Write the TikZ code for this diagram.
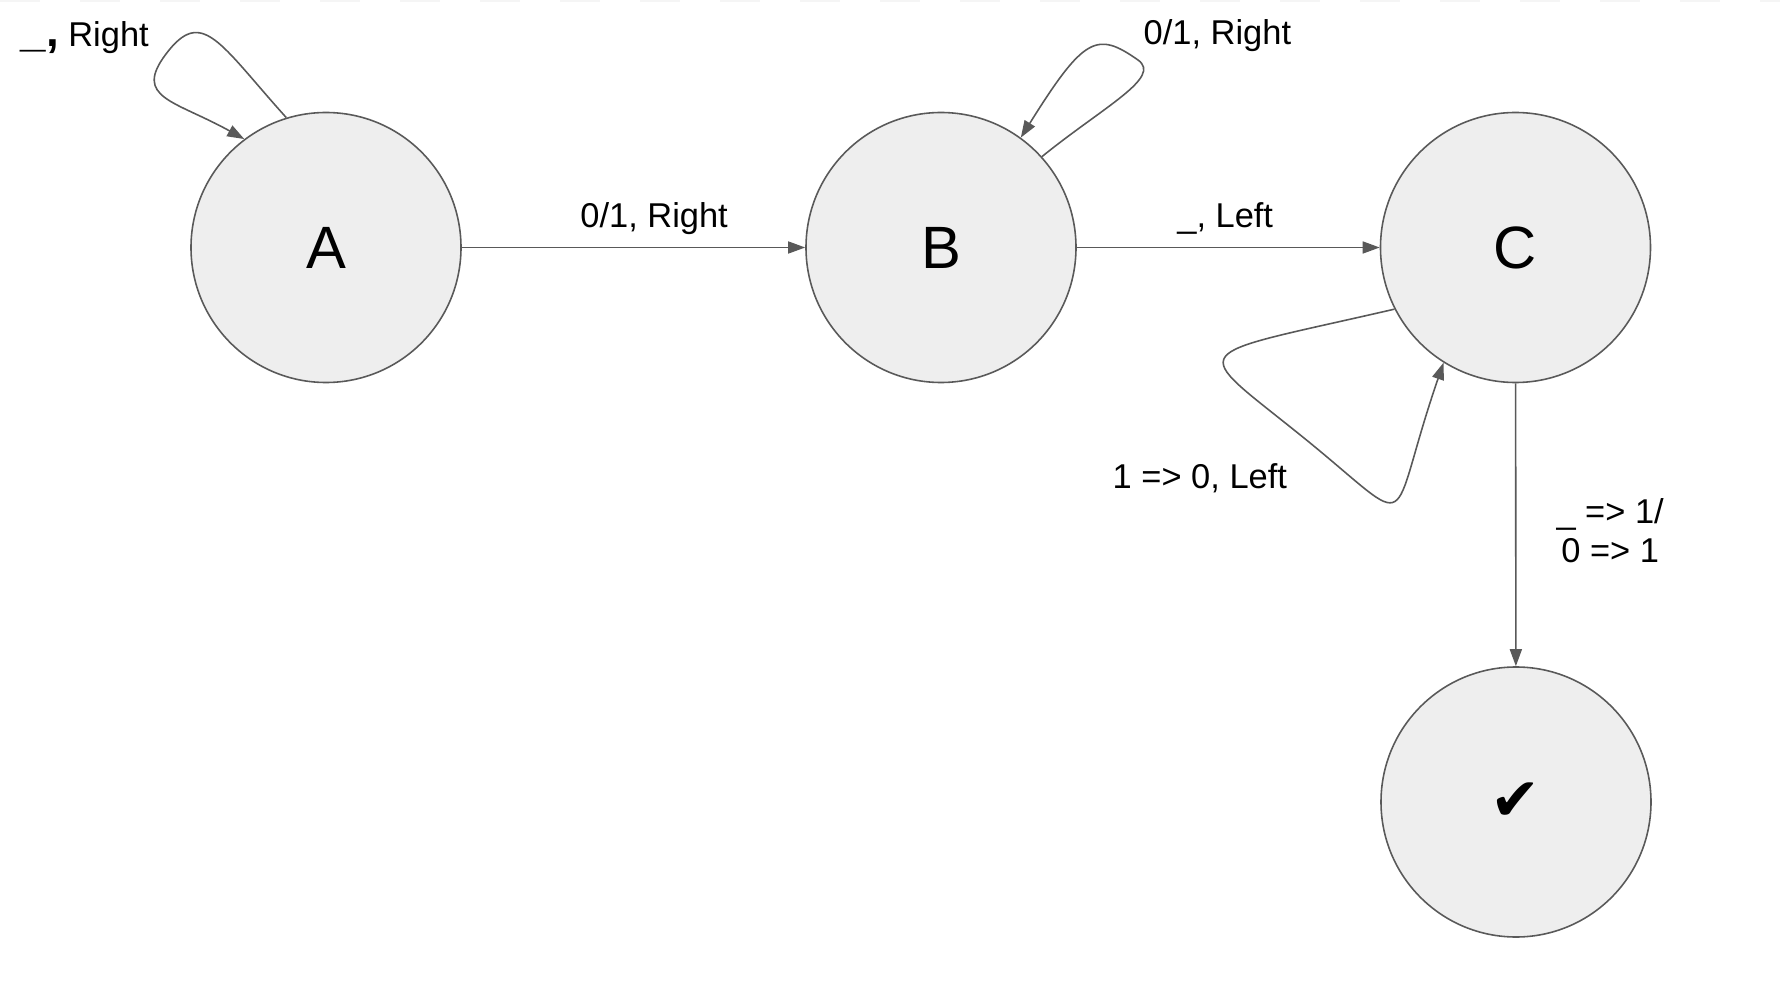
\documentclass[tikz,border=0pt]{standalone}
\usepackage{fontspec}
\setmainfont{Liberation Sans}
\newfontfamily\tickfont{DejaVu Sans}
\usepackage{tikz}
\usetikzlibrary{arrows.meta}
\definecolor{edgegray}{HTML}{595959}
\definecolor{statefill}{HTML}{EEEEEE}

\begin{document}
\begin{tikzpicture}[>={Triangle[length=1.7mm,width=1.2mm]},
  state/.style={draw=edgegray,line width=0.45pt,circle,minimum size=2.7cm,inner sep=0pt,fill=statefill,font=\fontsize{17}{20}\selectfont},
  trans/.style={draw=edgegray,line width=0.45pt,->},
  lbl/.style={inner sep=0pt,font=\fontsize{9.8}{11.2}\selectfont}]
\useasboundingbox (0,0) rectangle (17.8,-10.02);
\draw[gray!8,line width=0.8pt,dash pattern=on 4mm off 4mm] (0,-0.01) -- (17.8,-0.01);
\node[state] (a) at (3.26,-2.475) {A};
\node[state] (b) at (9.41,-2.475) {B};
\node[state] (c) at (15.155,-2.475) {C};
\node[state,font=\fontsize{17}{20}\tickfont] (done) at (15.16,-8.02) {✔};
% turning points of the loops
\coordinate (atip) at (1.66,-0.54);
\coordinate (btip) at (11.38,-0.60);
\coordinate (cdip) at (13.04,-4.38);
\draw[trans] (a) -- node[lbl,above=1.2mm,pos=0.56] (ab) {0/1, Right} (b);
\draw[trans] (b) -- node[lbl,above=1.2mm,pos=0.49] (bc) {\_, Left} (c);
\draw[trans] (c) -- node[lbl,right=4mm,pos=0.52,align=center] (cd) {\_ => 1/\\0 => 1} (done);
\draw[trans] (a.107) .. controls +(132:1.0) and +(53:0.6) .. (atip) .. controls +(233:0.55) and +(151:0.8) .. (a.127);
\node[lbl,anchor=base west] (aa) at (0.20,-0.47) {{\fontsize{13}{14}\selectfont\bfseries\_,} Right};
\draw[trans] (b.42) .. controls +(39:0.8) and +(-35:0.3) .. (btip) .. controls +(145:0.5) and +(58:1.2) .. (b.54);
\node[lbl,anchor=base west] (bb) at (11.43,-0.45) {0/1, Right};
\draw[trans] (c.207) .. controls +(193:2.2) and +(141:1.5) .. (cdip) .. controls +(-39:1.5) and +(251:1.8) .. (c.238);
\node[lbl,anchor=base west] (cc) at (11.12,-4.88) {1 => 0, Left};
\end{tikzpicture}
\end{document}
